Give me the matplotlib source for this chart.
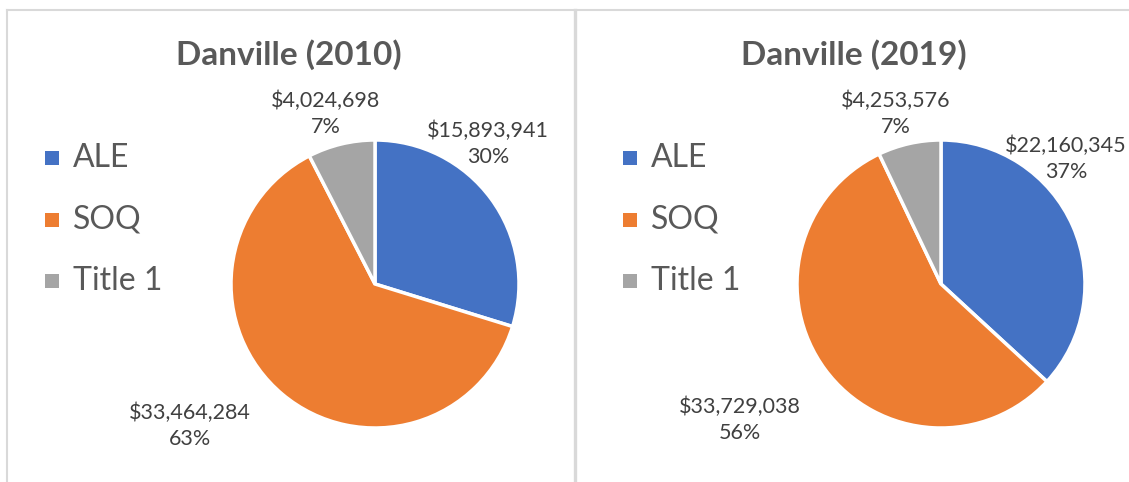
import matplotlib
matplotlib.use("Agg")
import matplotlib.pyplot as plt
import numpy as np

categories = ["ALE", "SOQ", "Title 1"]
titles = ["Danville (2010)", "Danville (2019)"]
values_2010 = [15893941, 33464284, 4024698]
values_2019 = [22160345, 33729038, 4253576]
pct_2010 = ["30%", "63%", "7%"]
pct_2019 = ["37%", "56%", "7%"]
colors = ["#4472C4", "#ED7D31", "#A5A5A5"]

W, H = 1129, 482
R = 144.0
fig = plt.figure(figsize=(W / 100, H / 100), dpi=100)
fig.patch.set_facecolor("white")

FONT = ["Lato", "DejaVu Sans"]
TXT = "#404040"

panels = [
    dict(x0=0, x1=574, cx=375, cy=284, legx=52,
         labpos=[(488, 144), (190, 426), (326, 114)]),
    dict(x0=574, x1=1129, cx=941, cy=284, legx=630,
         labpos=[(1066, 159), (740, 420), (896, 114)]),
]
datasets = [(values_2010, pct_2010), (values_2019, pct_2019)]

for p, (vals, pcts), title in zip(panels, datasets, titles):
    wpx = p["x1"] - p["x0"]
    ax = fig.add_axes([p["x0"] / W, 0, wpx / W, 1])
    wedges, _ = ax.pie(vals, colors=colors, startangle=90, counterclock=False,
                       radius=1.0, wedgeprops=dict(edgecolor="white", linewidth=2.5))
    ax.set_xlim((p["x0"] - p["cx"]) / R, (p["x1"] - p["cx"]) / R)
    ax.set_ylim((p["cy"] - H) / R, p["cy"] / R)
    ax.set_aspect("auto")
    ax.axis("off")

    def px(x, y):
        return (x - p["cx"]) / R, (p["cy"] - y) / R

    for v, pc, (lx, ly) in zip(vals, pcts, p["labpos"]):
        tx, ty = px(lx, ly)
        ax.text(tx, ty, f"${v:,.0f}\n{pc}", ha="center", va="center",
                fontsize=15.5, color=TXT, family=FONT, linespacing=1.38)

    tx, ty = px((p["x0"] + p["x1"]) / 2 + 2, 55)
    ax.text(tx, ty, title, ha="center", va="center", fontsize=24, fontweight="bold",
            color="#595959", family=FONT)

    for i, (cat, col) in enumerate(zip(categories, colors)):
        yy = 158 + i * 61.5
        mx, my = px(p["legx"], yy)
        ax.add_patch(plt.Rectangle((mx - 7 / R, my - 7 / R), 14 / R, 14 / R,
                                   facecolor=col, edgecolor="none", clip_on=False))
        lx, ly = px(p["legx"] + 21, yy)
        ax.text(lx, ly, cat, ha="left", va="center", fontsize=23, color="#595959",
                family=FONT)

border = "#D9D9D9"
fig.add_artist(plt.Line2D([7 / W, 7 / W], [0, 1 - 10 / H], color=border, lw=1.5,
                          transform=fig.transFigure))
fig.add_artist(plt.Line2D([7 / W, 1128 / W], [1 - 10 / H, 1 - 10 / H], color=border,
                          lw=1.5, transform=fig.transFigure))
fig.add_artist(plt.Line2D([574.5 / W, 574.5 / W], [0, 1 - 10 / H], color=border, lw=2.4,
                          transform=fig.transFigure))

fig.savefig("out.png", dpi=100, facecolor="white")
